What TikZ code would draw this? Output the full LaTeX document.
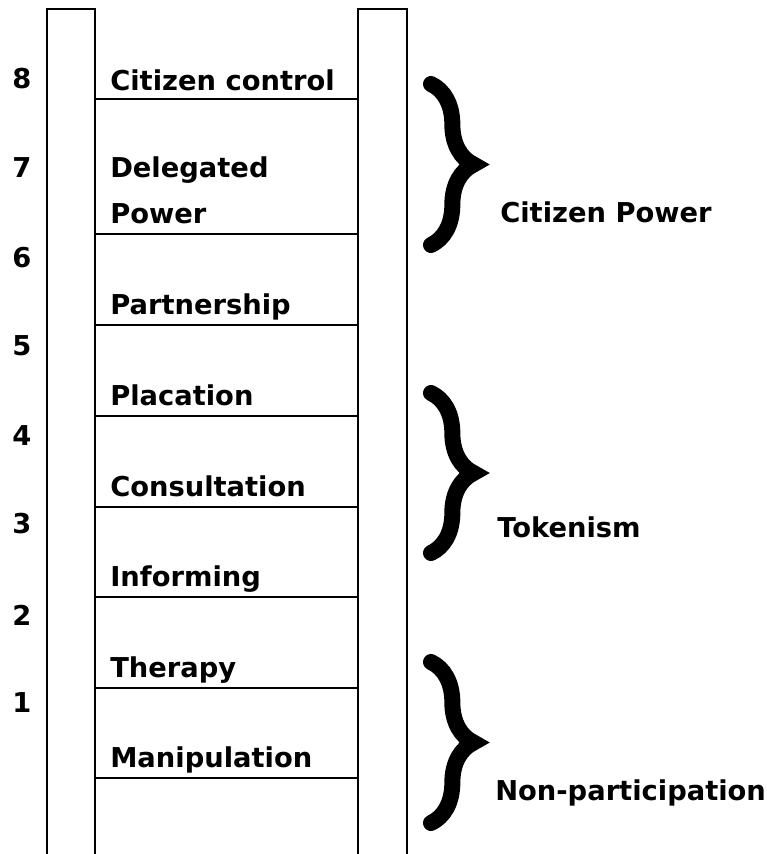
\documentclass[tikz,border=0pt]{standalone}
\usepackage{fontspec}
\setmainfont{DejaVu Sans}
\usetikzlibrary{decorations.pathreplacing}

\begin{document}
\begin{tikzpicture}[
        x=0.75pt, y=-0.75pt,
        every node/.style={font=\fontsize{20.5}{24}\selectfont\bfseries, inner sep=0pt},
        rail/.style={line width=1.6pt},
        rung/.style={line width=1.6pt},
        bracket/.style={decorate, decoration={brace, amplitude=32pt}, line width=12pt, line cap=round}
    ]
        \useasboundingbox (0,0) rectangle (767,854);

        % rails, open at the bottom
        \draw[rail] (47,854) -- (47,9) -- (95,9) -- (95,854);
        \draw[rail] (358,854) -- (358,9) -- (407,9) -- (407,854);

        % rungs
        \foreach \y in {99,234,325,416,507,597,688,778}
            \draw[rung] (95,\y) -- (358,\y);

        % step names, sitting on the rungs
        \node[anchor=base west] (control) at (110,90) {Citizen control};
        \node[anchor=base west, align=left] (delegated) at (110,223) {Delegated\\[10pt]Power};
        \foreach \name/\y/\txt in {partnership/314/Partnership, placation/405/Placation,
                consultation/496/Consultation, informing/586/Informing,
                therapy/677/Therapy, manipulation/767/Manipulation}
            \node[anchor=base west] (\name) at (110,\y) {\txt};

        % rung numbers
        \foreach \n/\y in {8/79,7/168,6/258,5/346,4/436,3/524,2/615,1/703}
            \node (num\n) at (22,\y) {\n};

        % groups
        \draw[bracket] (431,84) -- (431,245);
        \node[anchor=base west] (power) at (500,222) {Citizen Power};

        \draw[bracket] (431,393) -- (431,553);
        \node[anchor=base west] (tokenism) at (497,537) {Tokenism};

        \draw[bracket] (431,662) -- (431,823);
        \node[anchor=base west] (nonpart) at (495,800) {Non-participation};
    \end{tikzpicture}
\end{document}
